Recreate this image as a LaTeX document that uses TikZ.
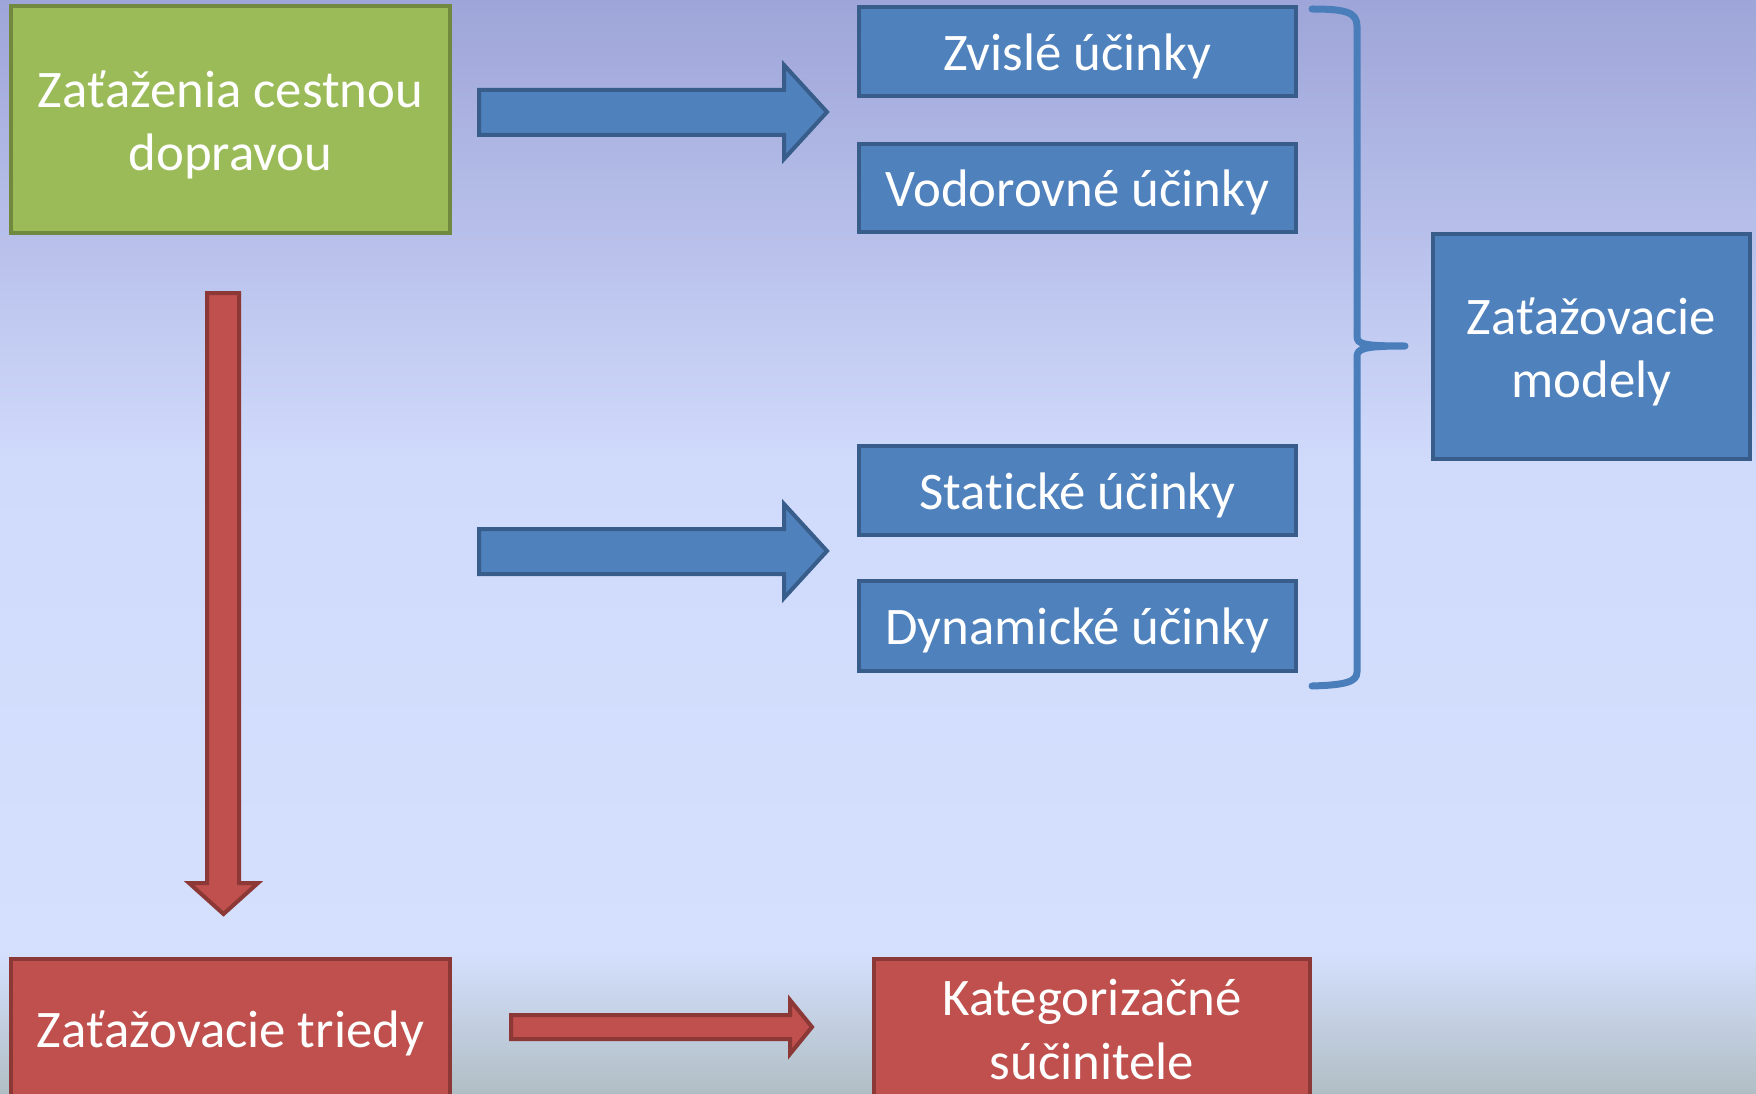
\documentclass[tikz,border=0pt]{standalone}
\usepackage{fontspec}
\setmainfont{Carlito}[Ligatures=NoCommon]
\definecolor{bgA}{RGB}{158,165,216}
\definecolor{bgB}{RGB}{208,218,251}
\definecolor{bgC}{RGB}{213,224,254}
\definecolor{bgD}{RGB}{176,190,196}
\definecolor{grfill}{RGB}{155,187,89}
\definecolor{grline}{RGB}{113,137,63}
\definecolor{blfill}{RGB}{79,129,189}
\definecolor{blline}{RGB}{56,93,138}
\definecolor{rdfill}{RGB}{192,80,77}
\definecolor{rdline}{RGB}{140,56,54}
\definecolor{brcol}{RGB}{74,126,187}
\tikzset{
  box/.style={rectangle, line width=4pt, inner sep=0pt},
  boxtext/.style={inner sep=0pt, text=white, align=center,
    font=\fontsize{52.8}{63.4}\selectfont},
  greenbox/.style={box, fill=grfill, draw=grline},
  bluebox/.style={box, fill=blfill, draw=blline},
  redbox/.style={box, fill=rdfill, draw=rdline},
  bluearrow/.style={fill=blfill, draw=blline, line width=4pt, line join=miter},
  redarrow/.style={fill=rdfill, draw=rdline, line width=4pt, line join=miter},
  bracestyle/.style={draw=brcol, line width=7pt, line cap=round, line join=round}
}
\begin{document}
\begin{tikzpicture}[x=1pt,y=-1pt]
\clip (0,0) rectangle (1756,1094);
% background
\shade[top color=bgA, bottom color=bgB] (0,0) rectangle (1756,461);
\shade[top color=bgB, bottom color=bgC] (0,460) rectangle (1756,951);
\shade[top color=bgC, bottom color=bgD] (0,950) rectangle (1756,1094);

% boxes
\node[greenbox, minimum width=439pt, minimum height=227pt] (g) at (230.5,119.5) {};
\node[bluebox, minimum width=437pt, minimum height=89pt] (z1) at (1077.5,51.5) {};
\node[bluebox, minimum width=437pt, minimum height=88pt] (z2) at (1077.5,188) {};
\node[bluebox, minimum width=437pt, minimum height=89pt] (z3) at (1077.5,490.5) {};
\node[bluebox, minimum width=437pt, minimum height=90pt] (z4) at (1077.5,626) {};
\node[bluebox, minimum width=317pt, minimum height=225pt] (zm) at (1591.5,346.5) {};
\node[redbox, minimum width=439pt, minimum height=141pt] (r1) at (230.5,1029.5) {};
\node[redbox, minimum width=436pt, minimum height=141pt] (r2) at (1092,1029.5) {};

% texts
\node[boxtext] (gt) at ([yshift=-5.5pt]g.center) {Zaťaženia cestnou\\dopravou};
\node[boxtext] (z1t) at ([yshift=-4.5pt]z1.center) {Zvislé účinky};
\node[boxtext] (z2t) at ([yshift=-4.5pt]z2.center) {Vodorovné účinky};
\node[boxtext] (z3t) at ([yshift=-4.5pt]z3.center) {Statické účinky};
\node[boxtext] (z4t) at ([yshift=-4.5pt]z4.center) {Dynamické účinky};
\node[boxtext] (zmt) at ([yshift=-5.5pt]zm.center) {Zaťažovacie\\modely};
\node[boxtext] (r1t) at ([yshift=-3.5pt]r1.center) {Zaťažovacie triedy};
\node[boxtext] (r2t) at (r2.center) {Kategorizačné\\súčinitele};

% block arrows
\draw[bluearrow] (479,90) -- (784,90) -- (784,65) -- (827,112) -- (784,159) -- (784,135) -- (479,135) -- cycle;
\draw[bluearrow] (479,529) -- (784,529) -- (784,504) -- (827,551) -- (784,598) -- (784,574) -- (479,574) -- cycle;
\draw[redarrow] (207,293) -- (239,293) -- (239,883) -- (258,883) -- (223.5,914) -- (189,883) -- (207,883) -- cycle;
\draw[redarrow] (511,1015) -- (790,1015) -- (790,1000) -- (812,1027) -- (790,1054) -- (790,1039) -- (511,1039) -- cycle;

% brace
\draw[bracestyle] (1312,9) .. controls (1345,9) and (1357,12) .. (1357,26)
  -- (1357,336) .. controls (1357,344) and (1362,346) .. (1405,346)
  .. controls (1362,346) and (1357,349) .. (1357,357)
  -- (1357,672) .. controls (1357,682) and (1345,685) .. (1312,686);
\end{tikzpicture}
\end{document}
